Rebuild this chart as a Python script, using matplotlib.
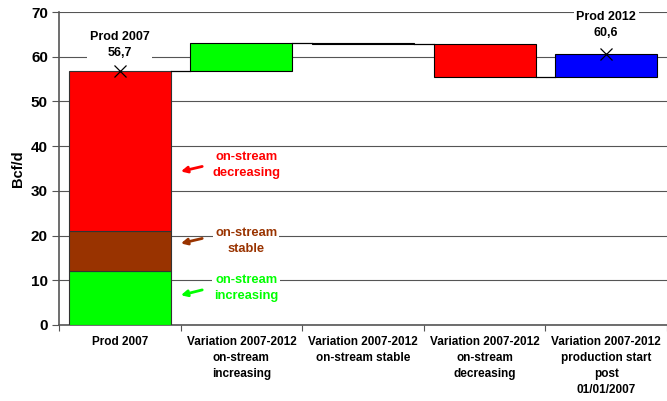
import matplotlib
matplotlib.use("Agg")
import matplotlib.pyplot as plt

plt.rcParams['font.family'] = ['Liberation Sans', 'DejaVu Sans']
plt.rcParams['font.weight'] = 'bold'

categories = ["Prod 2007", "Variation 2007-2012\non-stream\nincreasing",
              "Variation 2007-2012\non-stream stable",
              "Variation 2007-2012\non-stream\ndecreasing",
              "Variation 2007-2012\nproduction start\npost\n01/01/2007"]
prod2007_parts = [12.0, 9.0, 35.7]   # increasing, stable, decreasing
prod2007_total = 56.7
variations = [6.3, -0.1, -7.4, 5.1]
prod2012 = 60.6
var_colors = ['#00FF00', '#000000', '#FF0000', '#0000FF']
part_colors = ['#00FF00', '#993300', '#FF0000']
part_labels = ['on-stream\nincreasing', 'on-stream\nstable', 'on-stream\ndecreasing']

fig = plt.figure(figsize=(6.67, 4.01), dpi=100)
ax = fig.add_axes([59/667, 1-325/401, 1-59/667, (325-12)/401])
w = 0.84
x = list(range(len(categories)))

# stacked first bar
bottom = 0
for v, c in zip(prod2007_parts, part_colors):
    ax.bar(0, v, bottom=bottom, width=w, color=c, edgecolor='#333333', linewidth=0.8, zorder=3)
    bottom += v

# waterfall variations
level = prod2007_total
for i, (v, c) in enumerate(zip(variations, var_colors)):
    lo = min(level, level + v)
    ax.bar(i + 1, abs(v), bottom=lo, width=w, color=c, edgecolor='black', linewidth=0.8, zorder=3)
    level += v

# connectors
prev_tops = [prod2007_total] + [prod2007_total + sum(variations[:k + 1]) for k in range(len(variations))]
for i in range(len(variations)):
    y = prev_tops[i]
    ax.plot([i + w/2, i + 1 - w/2], [y, y], color='black', linewidth=0.9, zorder=3)

# markers
ax.plot([0, 4], [prod2007_total, prod2012], linestyle='none', marker='x', color='black',
        markersize=8, markeredgewidth=0.9, zorder=4)

ax.text(0, 62.6, "Prod 2007\n56,7", ha='center', va='center', fontsize=9, fontweight='bold',
        linespacing=1.4, bbox=dict(facecolor='white', edgecolor='none', pad=2), zorder=5)
ax.text(4, 67.1, "Prod 2012\n60,6", ha='center', va='center', fontsize=9, fontweight='bold',
        linespacing=1.4, bbox=dict(facecolor='white', edgecolor='none', pad=2), zorder=5)

# annotations
ann = [(8.3, 6.5, 8.0), (18.8, 18.1, 19.5), (35.8, 34.2, 35.6)]
for (ty, hy, tly), lab, c in zip(ann, part_labels, part_colors):
    ax.text(1.04, ty, lab, ha='center', va='center', color=c, fontsize=9.3, fontweight='bold',
            linespacing=1.5, bbox=dict(facecolor='white', edgecolor='none', pad=1.5), zorder=5)
    ax.annotate('', xy=(0.48, hy), xytext=(0.70, tly),
                arrowprops=dict(arrowstyle='-|>', color=c, lw=2.0, mutation_scale=9), zorder=5)

ax.set_xlim(-0.5, 4.5)
ax.set_ylim(0, 70)
ax.set_yticks(range(0, 71, 10))
ax.set_xticks([k + 0.5 for k in range(-1, 5)], minor=False)
ax.set_xticklabels([])
ax.set_xticks(x, minor=True)
ax.set_xticklabels(categories, minor=True, fontsize=8.5, fontweight='bold', linespacing=1.45)
ax.tick_params(axis='x', which='minor', length=0, pad=8)
ax.tick_params(axis='x', which='major', length=4, direction='out', color='#555555')
ax.tick_params(axis='y', labelsize=11, length=5, color='#555555', pad=3)
for lab in ax.get_yticklabels():
    lab.set_fontweight('bold')
ax.set_ylabel('Bcf/d', fontsize=10.5, fontweight='bold', labelpad=4)
ax.yaxis.grid(True, color='#555555', linewidth=0.8, zorder=0)
ax.set_axisbelow(True)
for s in ['top', 'right']:
    ax.spines[s].set_visible(False)
ax.spines['left'].set_color('#555555')
ax.spines['bottom'].set_color('#555555')
ax.spines['left'].set_linewidth(1.2)
ax.spines['bottom'].set_linewidth(1.2)

fig.savefig('out.png', dpi=100)
